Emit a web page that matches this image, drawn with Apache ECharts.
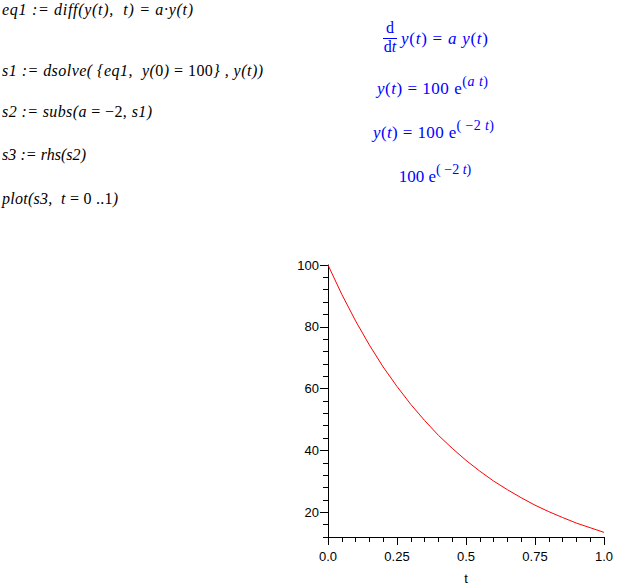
<!DOCTYPE html>
<html>
<head>
<meta charset="utf-8">
<script src="https://cdn.jsdelivr.net/npm/echarts@6/dist/echarts.min.js"></script>
<style>
  html, body { margin:0; padding:0; background:#fff; }
  #wrap { position:relative; width:618px; height:586px; overflow:hidden; }
  #chart { position:absolute; left:0; top:0; width:618px; height:586px; }
  #txt { position:absolute; left:0; top:0; width:618px; height:586px; pointer-events:none; }
  #txt text { white-space:pre; font-family:"Liberation Serif","Times New Roman",serif; }
</style>
</head>
<body>
<div id="wrap">
  <div id="chart"></div>
  <svg id="txt" width="618" height="586" xmlns="http://www.w3.org/2000/svg">
    <!-- Maple input lines -->
    <g font-size="16" fill="#000">
      <text x="2" y="15" font-style="italic" textLength="191" lengthAdjust="spacing">eq1 := diff(y(t),  t) = a·y(t)</text>
      <text x="2" y="76" textLength="261" lengthAdjust="spacing"><tspan font-style="italic">s1 := dsolve( {eq1,  y(</tspan>0<tspan font-style="italic">)</tspan> = 100<tspan font-style="italic">} , y(t))</tspan></text>
      <text x="2" y="117" textLength="150" lengthAdjust="spacing"><tspan font-style="italic">s2 := subs(a</tspan> = −2, <tspan font-style="italic">s1)</tspan></text>
      <text x="2" y="160" font-style="italic" textLength="84" lengthAdjust="spacing">s3 := rhs(s2)</text>
      <text x="2" y="204" textLength="116" lengthAdjust="spacing"><tspan font-style="italic">plot(s3,  t</tspan> = 0 ..1<tspan font-style="italic">)</tspan></text>
    </g>
    <!-- Maple output lines -->
    <g fill="#0000ff">
      <text x="390" y="33" font-size="16" text-anchor="middle">d</text>
      <line x1="383" y1="38.5" x2="397" y2="38.5" stroke="#0000ff" stroke-width="1"/>
      <text x="390" y="52" font-size="16" text-anchor="middle">d<tspan font-style="italic">t</tspan></text>
      <text x="401" y="44" font-size="17" textLength="87" lengthAdjust="spacing"><tspan font-style="italic">y</tspan>(<tspan font-style="italic">t</tspan>) = <tspan font-style="italic">a y</tspan>(<tspan font-style="italic">t</tspan>)</text>
      <text x="432.5" y="94" font-size="17" text-anchor="middle" textLength="111" lengthAdjust="spacing"><tspan font-style="italic">y</tspan>(<tspan font-style="italic">t</tspan>) = 100 e<tspan dy="-8" font-size="14">(<tspan font-style="italic">a t</tspan>)</tspan></text>
      <text x="433.5" y="138" font-size="17" text-anchor="middle" textLength="121" lengthAdjust="spacing"><tspan font-style="italic">y</tspan>(<tspan font-style="italic">t</tspan>) = 100 e<tspan dy="-8" font-size="14">( −2 <tspan font-style="italic">t</tspan>)</tspan></text>
      <text x="435" y="182" font-size="17" text-anchor="middle">100 e<tspan dy="-8" font-size="14">( −2 <tspan font-style="italic">t</tspan>)</tspan></text>
    </g>
  </svg>
</div>
<script>
// ---- data ----
const tValues = [0, 0.05, 0.1, 0.15, 0.2, 0.25, 0.3, 0.35, 0.4, 0.45, 0.5,
                 0.55, 0.6, 0.65, 0.7, 0.75, 0.8, 0.85, 0.9, 0.95, 1.0];
const yValues = [100, 90.5, 81.9, 74.1, 67.0, 60.7, 54.9, 49.7, 44.9, 40.7, 36.8,
                 33.3, 30.1, 27.3, 24.7, 22.3, 20.2, 18.3, 16.5, 15.0, 13.5];
const xTickLabels = ['0.0', '0.25', '0.5', '0.75', '1.0'];
const yTickValues = [20, 40, 60, 80, 100];
const yMinorTickValues = [12, 16, 24, 28, 32, 36, 44, 48, 52, 56, 64, 68, 72, 76, 84, 88, 92, 96];
const xName = 't';

const chart = echarts.init(document.getElementById('chart'), null, { renderer: 'svg' });
const labelFont = { color: '#000', fontFamily: '"Liberation Sans", Arial, sans-serif', fontSize: 13 };
const lineStyle = { color: '#000', width: 1 };

chart.setOption({
  animation: false,
  backgroundColor: 'transparent',
  grid: { left: 328, right: 14, top: 265, bottom: 49, containLabel: false },
  xAxis: {
    type: 'value', min: 0, max: 1, interval: 0.25,
    name: xName, nameLocation: 'middle', nameGap: 35,
    nameTextStyle: labelFont,
    axisLine: { show: true, lineStyle: lineStyle },
    axisTick: { show: true, length: 8, lineStyle: lineStyle },
    minorTick: { show: true, splitNumber: 5, length: 5, lineStyle: lineStyle },
    axisLabel: Object.assign({ margin: 13, formatter: function (v) {
      return xTickLabels[Math.round(v / 0.25)];
    } }, labelFont),
    splitLine: { show: false }, minorSplitLine: { show: false }
  },
  yAxis: [{
    type: 'value', min: 12, max: 100, position: 'left',
    axisLine: { show: true, lineStyle: lineStyle },
    axisTick: { show: true, length: 8, lineStyle: lineStyle, customValues: yTickValues },
    axisLabel: Object.assign({ margin: 9, customValues: yTickValues }, labelFont),
    splitLine: { show: false }
  }, {
    type: 'value', min: 12, max: 100, position: 'left',
    axisLine: { show: false },
    axisTick: { show: true, length: 5, lineStyle: lineStyle, customValues: yMinorTickValues },
    axisLabel: { show: false, customValues: yMinorTickValues },
    splitLine: { show: false }
  }],
  series: [{
    type: 'line',
    data: tValues.map(function (t, i) { return [t, yValues[i]]; }),
    showSymbol: false, symbol: 'none', smooth: false,
    lineStyle: { color: '#ff0000', width: 1 },
    clip: true
  }]
});
</script>
</body>
</html>
